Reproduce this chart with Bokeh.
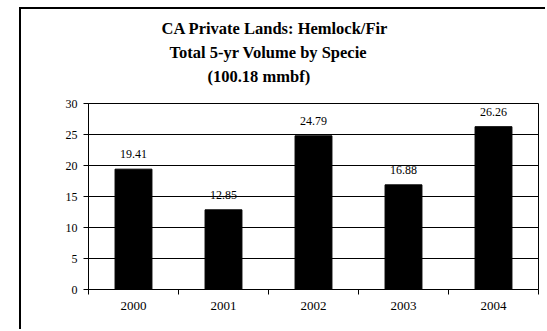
from bokeh.plotting import figure
from bokeh.models import (FactorRange, Range1d, LinearAxis, CategoricalAxis, FixedTicker,
                          ColumnDataSource, Title)
from bokeh.core.properties import value
from bokeh.embed import file_html
from bokeh.resources import INLINE

years = ["2000", "2001", "2002", "2003", "2004"]
volumes = [19.41, 12.85, 24.79, 16.88, 26.26]
title_lines = ["CA Private Lands: Hemlock/Fir", "Total 5-yr Volume by Specie", "(100.18 mmbf)"]
title_offsets = [73, 81, 119]  # px from frame left (layout only)
y_ticks = [0, 5, 10, 15, 20, 25, 30]

SERIF = "Liberation Serif"

src = ColumnDataSource(dict(year=years, vol=volumes, lbl=[f"{v:.2f}" for v in volumes]))

p = figure(x_range=FactorRange(*years), y_range=Range1d(0, 30),
           width=526, height=322, output_backend="svg", toolbar_location=None,
           x_axis_location=None, min_border_left=67, min_border_right=9,
           min_border_top=94, min_border_bottom=42,
           background_fill_color="white", border_fill_color="white")
p.styles = {"margin-left": "21px", "margin-top": "9px",
            "box-shadow": "-2px -2px 0px 0px black"}

p.outline_line_color = "black"
p.outline_line_width = 1

bars = p.vbar(x="year", top="vol", width=0.41, source=src,
              fill_color="black", line_color="black")

p.text(x="year", y="vol", text="lbl", source=src, text_align="center",
       text_baseline="middle", y_offset=-15, text_font=value(SERIF),
       text_font_size="12px", text_color="black")

# y axis
yt = FixedTicker(ticks=y_ticks, minor_ticks=[])
p.yaxis.ticker = yt
p.ygrid.ticker = yt
p.ygrid.grid_line_color = "black"
p.ygrid.grid_line_width = 1
p.xgrid.grid_line_color = None
p.yaxis.axis_line_color = "black"
p.yaxis.major_tick_out = 5
p.yaxis.major_tick_in = 0
p.yaxis.minor_tick_out = 0
p.yaxis.major_label_text_font = SERIF
p.yaxis.major_label_text_font_size = "12px"
p.yaxis.major_label_text_color = "black"
p.yaxis.major_label_standoff = 6

# x axis: ticks at category edges (synthetic coords 0..N), labels at centers
edge_axis = LinearAxis(ticker=FixedTicker(ticks=[], minor_ticks=list(range(len(years) + 1))),
                       major_tick_out=0, major_tick_in=0, minor_tick_out=5, minor_tick_in=0,
                       axis_line_color="black", major_label_text_font_size="0px",
                       major_label_standoff=0, axis_label_standoff=0)
p.add_layout(edge_axis, "below")
cat_axis = CategoricalAxis(major_tick_out=0, major_tick_in=0, axis_line_color=None,
                           major_label_text_font=SERIF, major_label_text_font_size="13px",
                           major_label_text_color="black", major_label_standoff=7,
                           axis_label_standoff=0)
p.add_layout(cat_axis, "below")

# invisible spacer between the frame and the titles (one transparent tick)
mid = len(years) / 2
spacer = LinearAxis(ticker=FixedTicker(ticks=[mid], minor_ticks=[]), major_tick_out=16,
                    major_tick_in=0, minor_tick_out=0, minor_tick_in=0,
                    major_tick_line_alpha=0, axis_line_color=None,
                    major_label_text_font_size="0px", major_label_overrides={mid: ""},
                    major_label_standoff=0, axis_label_standoff=0)
p.add_layout(spacer, "above")

# titles (closest to frame first)
for line, off in reversed(list(zip(title_lines, title_offsets))):
    p.add_layout(Title(text=line, align="left", offset=off, text_font=SERIF,
                       text_font_style="bold", text_font_size="16.5px",
                       text_color="black", standoff=3), "above")

open("out.html", "w").write(file_html(p, INLINE))
